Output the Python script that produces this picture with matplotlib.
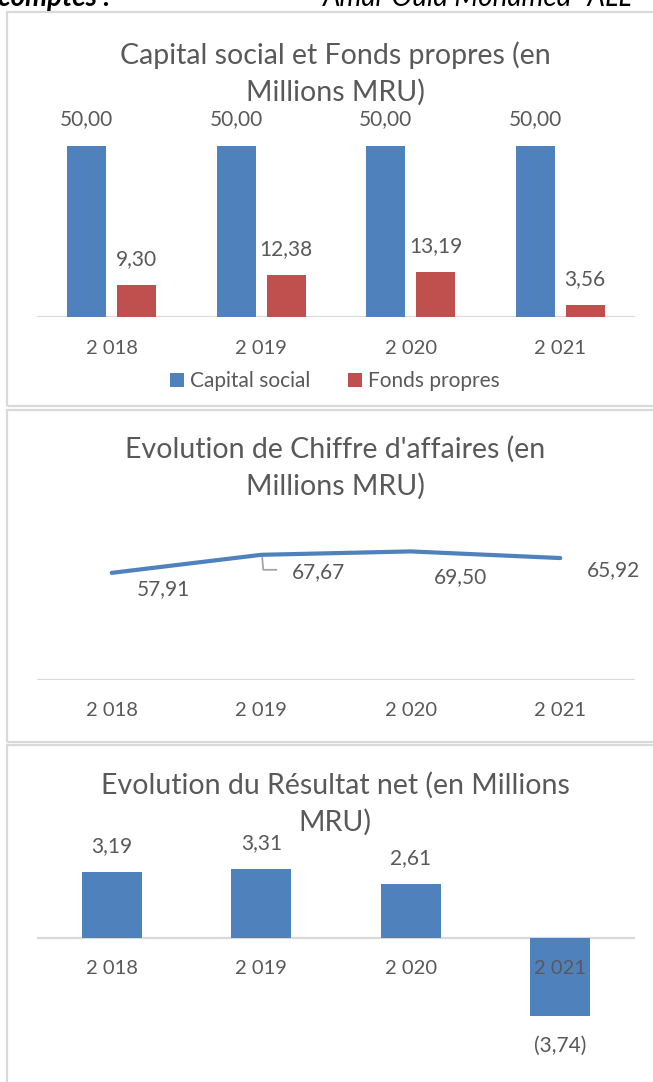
import matplotlib

matplotlib.use("Agg")
import matplotlib.pyplot as plt
from matplotlib.patches import Rectangle
from matplotlib.transforms import IdentityTransform, ScaledTranslation

W, H = 653, 1082
BLUE, RED = "#4f81bd", "#c0504d"
TXT, GRID = "#595959", "#d9d9d9"
plt.rcParams["font.family"] = ["Lato", "DejaVu Sans"]

# données
annees = ["2 018", "2 019", "2 020", "2 021"]
capital_social = [50.00, 50.00, 50.00, 50.00]
fonds_propres = [9.30, 12.38, 13.19, 3.56]
chiffre_affaires = [57.91, 67.67, 69.50, 65.92]
resultat_net = [3.19, 3.31, 2.61, -3.74]

PX = 72 / 100  # pixels -> points
FS_T, FS_L = 20.5, 15


def fr(v):
    s = f"{abs(v):.2f}".replace(".", ",")
    return f"({s})" if v < 0 else s


def ax_at(fig, x0, y0, x1, y1):
    ax = fig.add_axes([x0 / W, 1 - y1 / H, (x1 - x0) / W, (y1 - y0) / H])
    ax.set_axis_off()
    ax.set_xlim(-0.5, 3.5)
    ax.axhline(0, color=GRID, lw=1.6, zorder=1)
    return ax


def ticks(ax):
    for i, lbl in enumerate(annees):
        ax.annotate(lbl, (i, 0), xytext=(0, -31 * PX), textcoords="offset points",
                    ha="center", va="center", fontsize=14.5, color=TXT, zorder=5)


def label(ax, x, y, txt, dx, dy):
    ax.annotate(txt, (x, y), xytext=(dx * PX, -dy * PX), textcoords="offset points",
                ha="center", va="center", fontsize=FS_L, color=TXT, zorder=5)


def title(y, lines):
    for k, line in enumerate(lines):
        fig.text(335 / W, 1 - (y + 37 * k) / H, line, ha="center", va="center",
                 fontsize=FS_T, color=TXT)


fig = plt.figure(figsize=(W / 100, H / 100), dpi=100, facecolor="white")

# cadres des trois graphiques
for y0, y1 in [(12, 406), (410, 742), (745, 1095)]:
    fig.patches.append(Rectangle((7 / W, 1 - y1 / H), 660 / W, (y1 - y0) / H,
                                 transform=fig.transFigure, fill=False,
                                 edgecolor=GRID, lw=1.6))

# en-tête (coupé par le bord, comme sur l'original)
fig.text(-2 / W, 1 - 6 / H, "comptes :", fontsize=20, fontweight="bold",
         fontstyle="italic", va="baseline", color="black")
fig.text(323 / W, 1 - 6 / H, "Amar Ould Mohamed -ALL", fontsize=20,
         fontstyle="italic", va="baseline", color="black")

# 1. Capital social et Fonds propres
ax1 = ax_at(fig, 37, 112, 635, 317)
ax1.set_ylim(0, 60)
xs = range(len(annees))
ax1.bar([i - 0.167 for i in xs], capital_social, 0.26, color=BLUE, label="Capital social", zorder=2)
ax1.bar([i + 0.167 for i in xs], fonds_propres, 0.26, color=RED, label="Fonds propres", zorder=2)
for i in xs:
    label(ax1, i - 0.167, capital_social[i], fr(capital_social[i]), 0, -27)
    label(ax1, i + 0.167, fonds_propres[i], fr(fonds_propres[i]), 0, -26)
ticks(ax1)
fig.legend(loc="center", bbox_to_anchor=(335 / W, 1 - 381 / H), ncol=2, frameon=False,
           fontsize=FS_L, labelcolor=TXT, handlelength=0.65, handleheight=0.65,
           handletextpad=0.3, columnspacing=1.8)
title(55, ["Capital social et Fonds propres (en", "Millions MRU)"])

# 2. Chiffre d'affaires
ax2 = ax_at(fig, 37, 532, 635, 680)
ax2.set_ylim(0, 80)
ax2.plot(xs, chiffre_affaires, color=BLUE, lw=3, solid_capstyle="round", zorder=3)
offs = [(52, 16), (57, 17), (50, 26), (53, 12)]
for i in xs:
    label(ax2, i, chiffre_affaires[i], fr(chiffre_affaires[i]), *offs[i])
# ligne de rappel de l'étiquette 2019
ax2.plot([1, 2, 15], [-3, -15, -15], color="#a6a6a6", lw=1.3, zorder=4,
         transform=IdentityTransform() + ScaledTranslation(1, chiffre_affaires[1], ax2.transData))
ticks(ax2)
title(449, ["Evolution de Chiffre d'affaires (en", "Millions MRU)"])

# 3. Résultat net
ax3 = ax_at(fig, 37, 855, 635, 1021)
ax3.set_ylim(-4, 4)
ax3.bar(xs, resultat_net, 0.4, color=BLUE, zorder=2)
for i in xs:
    v = resultat_net[i]
    label(ax3, i, v, fr(v), 0, -26 if v >= 0 else 30)
ticks(ax3)
title(785, ["Evolution du Résultat net (en Millions", "MRU)"])

fig.savefig("out.png", dpi=100)
